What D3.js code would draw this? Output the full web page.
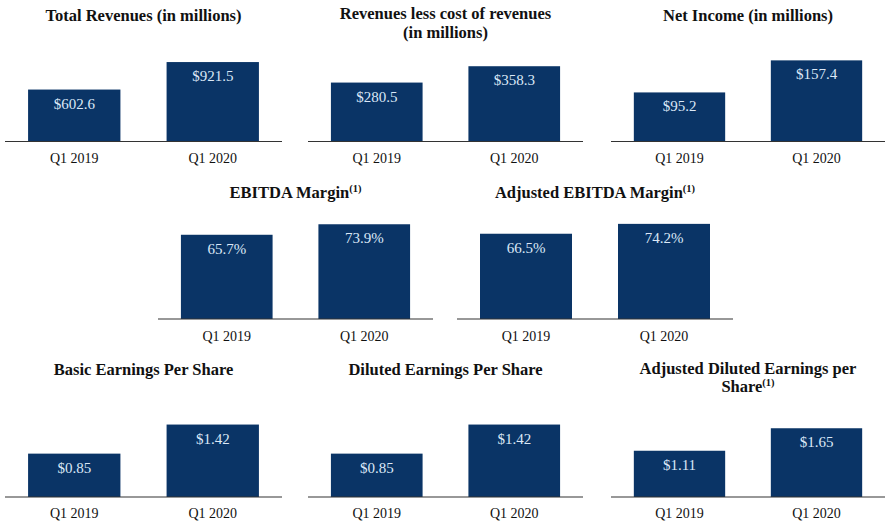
<!DOCTYPE html>
<html>
<head>
<meta charset="utf-8">
<script src="https://cdn.jsdelivr.net/npm/d3@7"></script>
<style>
  html, body { margin: 0; padding: 0; background: #ffffff; }
  svg { display: block; }
</style>
</head>
<body>
<svg id="chart" width="893" height="526"></svg>
<script>
// ---- data ----
const categories = ["Q1 2019", "Q1 2020"];

const totalRevenues = [602.6, 921.5];
const revenuesLessCost = [280.5, 358.3];
const netIncome = [95.2, 157.4];
const ebitdaMargin = [65.7, 73.9];
const adjEbitdaMargin = [66.5, 74.2];
const basicEps = [0.85, 1.42];
const dilutedEps = [0.85, 1.42];
const adjDilutedEps = [1.11, 1.65];

const totalRevenuesLabels = ["$602.6", "$921.5"];
const revenuesLessCostLabels = ["$280.5", "$358.3"];
const netIncomeLabels = ["$95.2", "$157.4"];
const ebitdaMarginLabels = ["65.7%", "73.9%"];
const adjEbitdaMarginLabels = ["66.5%", "74.2%"];
const basicEpsLabels = ["$0.85", "$1.42"];
const dilutedEpsLabels = ["$0.85", "$1.42"];
const adjDilutedEpsLabels = ["$1.11", "$1.65"];

// ---- layout (positions / styles) ----
const panels = [
  { title: ["Total Revenues (in millions)"], sup: false, values: totalRevenues, labels: totalRevenuesLabels, x0: 5, x1: 282, base: 141.5, yMax: 1160, titleY: 20.5, catY: 163 },
  { title: ["Revenues less cost of revenues", "(in millions)"], sup: false, values: revenuesLessCost, labels: revenuesLessCostLabels, x0: 308, x1: 583, base: 141.5, yMax: 476, titleY: 19, catY: 163 },
  { title: ["Net Income (in millions)"], sup: false, values: netIncome, labels: netIncomeLabels, x0: 611, x1: 885, base: 141.5, yMax: 194, titleY: 20.5, catY: 163 },
  { title: ["EBITDA Margin"], sup: true, values: ebitdaMargin, labels: ebitdaMarginLabels, x0: 158, x1: 433, base: 319, yMax: 78, titleY: 197.5, catY: 340.5 },
  { title: ["Adjusted EBITDA Margin"], sup: true, values: adjEbitdaMargin, labels: adjEbitdaMarginLabels, x0: 457, x1: 733, base: 319, yMax: 78, titleY: 197.5, catY: 340.5 },
  { title: ["Basic Earnings Per Share"], sup: false, values: basicEps, labels: basicEpsLabels, x0: 5, x1: 282, base: 497, yMax: 1.96, titleY: 375, catY: 518 },
  { title: ["Diluted Earnings Per Share"], sup: false, values: dilutedEps, labels: dilutedEpsLabels, x0: 308, x1: 583, base: 497, yMax: 1.96, titleY: 375, catY: 518 },
  { title: ["Adjusted Diluted Earnings per", "Share"], sup: true, values: adjDilutedEps, labels: adjDilutedEpsLabels, x0: 611, x1: 885, base: 497, yMax: 2.40, titleY: 373.5, catY: 518 }
];

const BAR_COLOR = "#0a3466";
const VALUE_COLOR = "#dce8f7";
const FONT = "'Liberation Serif', 'Times New Roman', Times, serif";
const PLOT_H = 100;

const svg = d3.select("#chart");

panels.forEach(p => {
  const g = svg.append("g");
  const x = d3.scaleBand().domain(categories).range([p.x0, p.x1]).paddingInner(1/3).paddingOuter(1/6);
  const y = d3.scaleLinear().domain([0, p.yMax]).range([p.base, p.base - PLOT_H]);
  const data = categories.map((c, i) => ({ c, v: p.values[i], l: p.labels[i] }));

  // bars
  g.selectAll("rect").data(data).join("rect")
    .attr("x", d => x(d.c))
    .attr("width", x.bandwidth())
    .attr("y", d => y(d.v))
    .attr("height", d => y(0) - y(d.v))
    .attr("fill", BAR_COLOR);

  // value labels
  g.selectAll("text.val").data(data).join("text")
    .attr("class", "val")
    .attr("x", d => x(d.c) + x.bandwidth() / 2)
    .attr("y", d => y(d.v) + 19)
    .attr("text-anchor", "middle")
    .attr("font-family", FONT)
    .attr("font-size", 15)
    .attr("fill", VALUE_COLOR)
    .text(d => d.l);

  // axis
  const axis = d3.axisBottom(x).tickSize(0).tickPadding(0);
  const ax = g.append("g").attr("transform", `translate(0,${y(0)})`).call(axis);
  ax.select(".domain").attr("stroke", "#333").attr("stroke-width", 1.2)
    .attr("d", `M${p.x0},0H${p.x1}`);
  ax.selectAll(".tick text")
    .attr("font-family", FONT)
    .attr("font-size", 14)
    .attr("fill", "#111")
    .attr("dy", null)
    .attr("y", p.catY - p.base);

  // title
  const cx = (p.x0 + p.x1) / 2;
  p.title.forEach((line, i) => {
    const t = g.append("text")
      .attr("x", cx)
      .attr("y", p.titleY + i * 18.5)
      .attr("text-anchor", "middle")
      .attr("font-family", FONT)
      .attr("font-weight", "bold")
      .attr("font-size", 16.5)
      .attr("fill", "#111");
    t.append("tspan").text(line);
    if (p.sup && i === p.title.length - 1) {
      t.append("tspan").attr("font-size", 10.5).attr("dy", -6).text("(1)");
    }
  });
});
</script>
</body>
</html>
